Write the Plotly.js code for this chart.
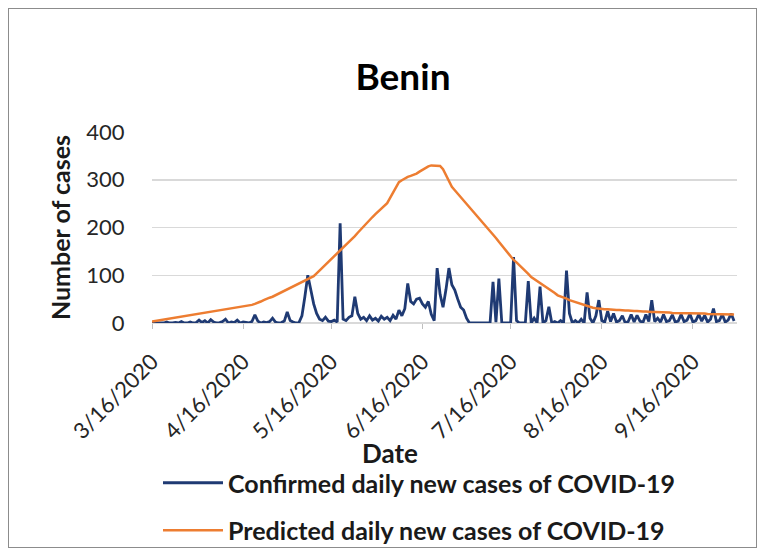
<!DOCTYPE html>
<html>
<head>
<meta charset="utf-8">
<script src="https://cdn.plot.ly/plotly-3.0.1.min.js"></script>
<style>
  html, body { margin: 0; padding: 0; background: #ffffff; }
  #wrap { position: relative; width: 767px; height: 557px; }
  #chart { width: 767px; height: 557px; }
  #frame { position: absolute; left: 8px; top: 8px; width: 747px; height: 538px;
           border: 1.5px solid #8c8c8c; pointer-events: none; }
</style>
</head>
<body>
<div id="wrap"><div id="chart"></div><div id="frame"></div></div>
<script>
// ---- data ----
const startDate = '2020-03-16';
const numDays = 199;

const confirmed = [
  0,0,1,0,0,2,0,0,1,0,3,0,0,2,0,1,
  6,1,5,0,7,2,0,1,3,8,0,2,1,6,0,2,
  1,0,3,17,4,0,2,1,3,10,2,0,1,4,23,5,
  2,0,1,15,55,100,70,40,20,8,5,12,4,3,6,2,
  209,8,5,12,15,55,20,8,12,5,15,6,10,4,14,8,
  12,5,16,8,27,15,30,83,45,40,50,52,40,33,45,18,
  5,115,60,33,70,115,80,69,50,33,27,10,0,
  0,0,0,0,0,0,0,
  86,2,93,0,0,0,0,138,5,0,0,0,88,0,10,0,76,0,5,34,0,3,0,5,0,110,20,0,5,0,8,0,64,10,0,15,48,5,
  2,25,3,20,2,5,15,0,3,18,2,16,4,1,18,3,
  48,3,10,2,18,3,5,17,2,4,18,3,6,19,2,5,18,4,16,2,8,30,3,5,18,2,6,20,4
];

const predicted = [
  3,4,5,6,7,8,9,10,11,13,14,15,16,17,18,19,
  20,21,22,23,24,25,26,27,28,29,30,31,32,33,34,35,
  36,37,38,40,42,45,48,51,53,55,58,61,65,67,
  70,73,76,79,82,85,89,92,95,98,104,110,116,122,128,
  133,139,145,150,156,163,169,176,182,189,196,203,210,216,222,
  228,234,240,245,251,262,273,284,295,299,303,306,308,310,313,
  317,321,325,328,330,330,330,329,
  322,310,297,285,278,271,264,257,250,243,236,229,222,215,
  208,200,193,186,178,
  170,162,155,147,140,132,
  127,121,116,111,103,96,
  92,88,84,79,75,71,67,63,58,
  56,53,51,48,46,44,42,40,38,36,33,
  32,31,30,30,29,29,28,28,27,27,26,26,26,25,25,
  25,24,24,24,23,23,23,23,22,22,22,22,21,21,21,21,
  21,21,20,20,20,20,20,20,19,19,19,19,19,19,18,18,18,18
];

const tickDates = ['2020-03-16','2020-04-16','2020-05-16','2020-06-16','2020-07-16','2020-08-16','2020-09-16'];
const tickLabels = ['3/16/2020','4/16/2020','5/16/2020','6/16/2020','7/16/2020','8/16/2020','9/16/2020'];
const seriesNames = ['Confirmed daily new cases of COVID-19', 'Predicted daily new cases of COVID-19'];

// ---- dates ----
const dates = [];
const t0 = Date.parse(startDate + 'T00:00:00Z');
for (let i = 0; i < numDays; i++) {
  dates.push(new Date(t0 + i * 86400000).toISOString().slice(0, 10));
}

const FONT = 'Lato, "Open Sans", "DejaVu Sans", sans-serif';

const traces = [
  { x: dates.slice(0, confirmed.length), y: confirmed, type: 'scatter', mode: 'lines',
    name: seriesNames[0], legendgroup: 'a',
    line: { color: '#1F3A73', width: 2.8 } },
  { x: dates.slice(0, predicted.length), y: predicted, type: 'scatter', mode: 'lines',
    name: seriesNames[1], legendgroup: 'b',
    line: { color: '#ED7D31', width: 2.5 } }
];

const W = 767, H = 557, L = 152, R = 30, T = 132, B = 234;
const pw = W - L - R, ph = H - T - B;
const px = v => (v - L) / pw;
const py = v => (H - B - v) / ph;

const layout = {
  width: W, height: H,
  margin: { l: L, r: R, t: T, b: B, pad: 0, autoexpand: false },
  paper_bgcolor: '#ffffff', plot_bgcolor: '#ffffff',
  font: { family: FONT, color: '#404040' },
  showlegend: true,
  title: { text: 'Benin', x: 403 / W, xref: 'container', xanchor: 'center',
           y: 1 - 77 / H, yref: 'container', yanchor: 'middle',
           font: { family: FONT, size: 37, weight: 'bold', color: '#000000' } },
  xaxis: {
    type: 'date', range: ['2020-03-16', '2020-10-01'],
    tickmode: 'array', tickvals: tickDates, ticktext: tickLabels,
    tickangle: -45, ticks: 'outside', ticklen: 5, tickcolor: '#bfbfbf',
    ticklabelstandoff: 11,
    showgrid: false, zeroline: false, showline: false,
    tickfont: { family: FONT, size: 22, color: '#262626' },
    automargin: false, fixedrange: true
  },
  yaxis: {
    range: [0, 400], tickmode: 'linear', tick0: 0, dtick: 100,
    showgrid: true, gridcolor: '#d9d9d9', gridwidth: 1.5,
    zeroline: true, zerolinecolor: '#d9d9d9', zerolinewidth: 1.5,
    showline: false,
    ticks: 'outside', ticklen: 22, tickcolor: 'rgba(0,0,0,0)',
    tickfont: { family: FONT, size: 22, color: '#262626' },
    title: { text: 'Number of cases', standoff: 8,
             font: { family: FONT, size: 25, weight: 'bold', color: '#1a1a1a' } },
    automargin: false, fixedrange: true
  },
  legend: {
    orientation: 'v', x: px(158), xanchor: 'left', y: py(460), yanchor: 'top',
    traceorder: 'grouped', tracegroupgap: 12, itemwidth: 60,
    font: { family: FONT, size: 25, weight: 'bold', color: '#1a1a1a' },
    bgcolor: 'rgba(0,0,0,0)'
  },
  annotations: [
    { text: 'Date', xref: 'paper', yref: 'paper', x: px(390), y: py(453),
      xanchor: 'center', yanchor: 'middle', showarrow: false,
      font: { family: FONT, size: 26, weight: 'bold', color: '#1a1a1a' } }
  ]
};

Plotly.newPlot('chart', traces, layout, { displayModeBar: false, staticPlot: true });
</script>
</body>
</html>
